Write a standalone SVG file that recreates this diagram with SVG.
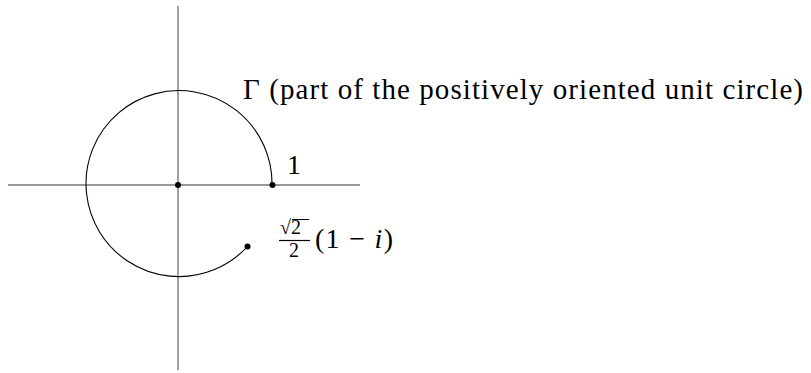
<svg xmlns="http://www.w3.org/2000/svg" width="811" height="373" viewBox="0 0 811 373">
<style>
.axis{stroke:#777;stroke-width:1.4;fill:none}
.curve{stroke:#000;stroke-width:1.1;fill:none}
.dot{fill:#000}
text{font-family:'Liberation Serif','Times New Roman',serif;fill:#000}
</style>
<rect width="811" height="373" fill="#fff"/>
<g id="axes">
<line class="axis" x1="8" y1="185" x2="360" y2="185"/>
<line class="axis" x1="178" y1="6" x2="178" y2="370"/>
</g>
<g id="connectors">
<path id="gamma" class="curve" d="M 272 185 A 93 93 0 1 0 247.5 246.5"/>
</g>
<g id="origin"><circle class="dot" cx="178" cy="185" r="3"/></g>
<g id="point-one"><circle class="dot" cx="272.5" cy="185" r="3"/>
<text x="287" y="174" font-size="28" font-family="Liberation Serif, serif">1</text></g>
<g id="point-end"><circle class="dot" cx="247.5" cy="246.5" r="3"/>
<text x="280" y="234" font-size="20" font-family="Liberation Serif, serif">√2</text>
<line x1="292" y1="219.5" x2="309" y2="219.5" stroke="#000" stroke-width="1"/>
<line x1="279" y1="240.5" x2="310" y2="240.5" stroke="#000" stroke-width="1.2"/>
<text x="289" y="257" font-size="20" font-family="Liberation Serif, serif">2</text>
<text x="315" y="248" font-size="28" font-family="Liberation Serif, serif" textLength="78" lengthAdjust="spacing">(1 − <tspan font-style="italic">i</tspan>)</text></g>
<g id="label-gamma">
<text x="243" y="99" font-size="29" font-family="Liberation Serif, serif" textLength="560" lengthAdjust="spacing">Γ (part of the positively oriented unit circle)</text>
</g>
</svg>
